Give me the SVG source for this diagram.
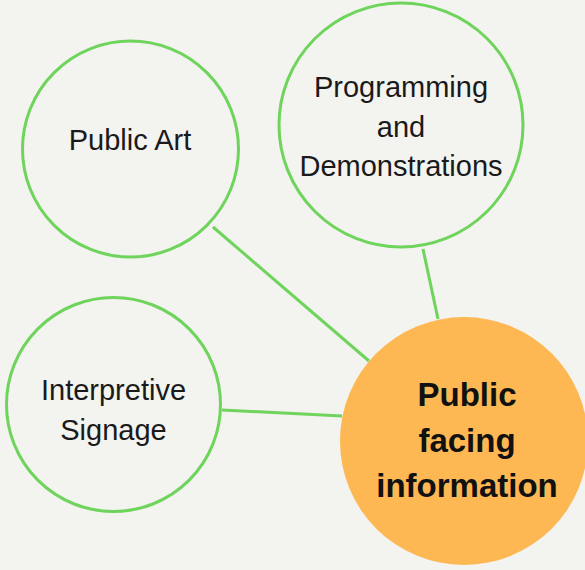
<svg xmlns="http://www.w3.org/2000/svg" width="585" height="570" viewBox="0 0 585 570">
<style>
.ring{fill:#f3f3f0;stroke:#6fd45c;stroke-width:3}
.hub{fill:#fdb853;stroke:none}
.edge{stroke:#6fd45c;stroke-width:3;fill:none}
.t{font-family:"Liberation Sans",Arial,sans-serif;font-size:29px;fill:#1a1a1a;text-anchor:middle}
.tb{font-family:"Liberation Sans",Arial,sans-serif;font-size:33px;font-weight:bold;fill:#111;text-anchor:middle}
</style>
<rect width="585" height="570" fill="#f3f3f0"/>
<g id="connectors">
<line class="edge" x1="213" y1="227" x2="369" y2="361"/>
<line class="edge" x1="423" y1="249" x2="438" y2="319"/>
<line class="edge" x1="222" y1="410" x2="342" y2="416"/>
</g>
<g id="public-art">
<circle class="ring" cx="130.5" cy="149" r="108"/>
<text class="t" x="130" y="150">Public Art</text>
</g>
<g id="programming">
<circle class="ring" cx="401" cy="125" r="122"/>
<text class="t" x="401" y="97">Programming</text>
<text class="t" x="401" y="137">and</text>
<text class="t" x="401" y="176">Demonstrations</text>
</g>
<g id="signage">
<circle class="ring" cx="113.5" cy="404.5" r="107"/>
<text class="t" x="113.5" y="400">Interpretive</text>
<text class="t" x="113.5" y="440">Signage</text>
</g>
<g id="public-facing">
<circle class="hub" cx="464" cy="441" r="124"/>
<text class="tb" x="467" y="406">Public</text>
<text class="tb" x="467" y="452">facing</text>
<text class="tb" x="467" y="497">information</text>
</g>
</svg>
